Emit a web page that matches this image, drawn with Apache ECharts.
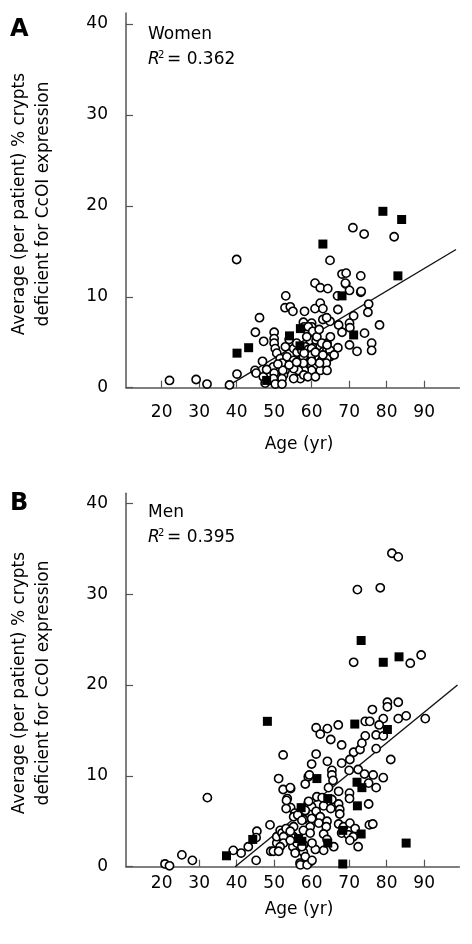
<!DOCTYPE html>
<html>
<head>
<meta charset="utf-8">
<script src="https://cdn.jsdelivr.net/npm/echarts@6/dist/echarts.min.js"></script>
<style>html,body{margin:0;padding:0;background:#fff}#c{width:472px;height:944px}</style>
</head>
<body>
<div id="c"></div>
<script>
// ---- Data ----
const ageTicks = [20, 30, 40, 50, 60, 70, 80, 90];
const pctTicks = [0, 10, 20, 30, 40];

// Panel A: Women (open circles = patients, filled squares = subgroup)
const womenCircAge = [40.0,71.0,74.0,82.0,64.9,68.1,69.2,73.1,60.9,62.3,64.3,69.1,70.1,66.9,73.1,53.1,52.9,54.3,55.0,58.1,60.9,62.3,63.0,67.0,63.0,64.9,64.0,75.2,75.0,71.2,70.1,70.2,67.2,68.1,78.1,74.1,70.1,72.1,76.0,76.0,67.0,46.1,45.0,47.2,50.0,50.0,50.0,50.3,57.8,60.0,60.0,58.0,61.4,60.0,59.6,61.2,55.2,56.1,57.4,58.3,59.1,60.5,62.3,63.2,64.1,64.9,64.9,50.7,51.6,53.4,52.1,52.9,52.5,52.1,55.2,57.0,57.9,59.2,60.5,61.8,62.7,64.1,63.6,62.3,60.0,58.0,56.5,57.0,55.2,57.9,44.9,45.2,47.1,46.9,49.8,50.0,49.8,52.3,40.1,38.1,32.1,29.2,22.1,47.6,50.3,52.1,64.1,69.0,73.2,59.1,60.3,58.7,61.4,62.7,64.1,63.9,64.1,62.1,60.0,60.0,60.0,57.8,57.8,55.2,54.0,56.0,58.0,61.0,63.0,59.0,61.0,56.0,53.0,51.0,48.0,54.0,62.0,65.0,66.0];
const womenCircPct = [14.1,17.6,16.9,16.6,14.0,12.5,12.6,12.3,11.5,11.0,10.9,11.4,10.7,10.1,10.5,10.1,8.8,8.9,8.4,8.4,8.7,9.3,8.7,8.6,7.5,7.3,7.7,9.2,8.3,7.9,7.1,6.6,6.9,6.1,6.9,6.0,4.7,4.0,4.9,4.1,4.4,7.7,6.1,5.1,6.1,5.4,4.9,4.3,7.2,7.1,6.7,6.7,6.2,5.8,5.2,5.2,4.3,3.9,4.1,4.5,4.2,4.4,4.6,4.0,4.2,4.1,3.4,3.8,3.2,3.4,2.7,1.9,1.4,1.0,3.0,3.0,2.4,3.2,3.2,3.4,3.0,3.2,2.4,1.9,1.9,1.9,1.9,1.0,1.0,1.4,1.9,1.6,1.2,2.9,2.3,1.6,1.0,1.9,1.5,0.3,0.4,0.9,0.8,0.5,0.4,0.4,4.9,11.5,10.6,6.7,6.2,5.6,5.6,4.9,4.7,2.7,1.9,2.7,4.3,3.6,2.9,3.4,2.7,2.1,2.5,2.8,3.8,3.9,3.6,1.2,1.2,4.9,4.5,2.6,2.0,5.3,6.4,5.6,3.6];
const womenSqAge = [79.0,84.0,63.0,83.0,68.1,71.2,57.0,54.1,56.9,43.2,40.1,48.0];
const womenSqPct = [19.4,18.5,15.8,12.3,10.1,5.8,6.5,5.7,4.6,4.4,3.8,0.8];
const womenFitAge = [36.9, 98.5];
const womenFitPct = [0, 15.2];

// Panel B: Men
const menCircAge = [81.4,83.1,72.2,78.3,71.2,86.3,89.2,80.2,80.2,83.1,76.2,90.3,83.1,85.2,79.1,78.0,74.3,75.5,67.1,64.2,61.2,62.3,74.3,77.2,79.1,65.1,68.0,71.2,72.9,73.4,77.2,61.2,60.0,64.2,68.0,70.2,70.0,72.4,81.1,65.4,65.4,65.7,74.1,76.4,75.2,77.2,79.1,59.1,58.3,64.5,67.2,70.1,70.1,75.2,61.4,62.8,63.2,65.4,65.1,67.2,67.5,67.5,54.4,54.4,55.5,59.1,60.0,58.2,57.8,60.0,61.2,62.3,61.9,64.1,63.9,67.2,68.5,70.2,71.6,75.4,76.3,68.0,69.8,71.1,70.2,72.4,59.6,57.8,59.6,63.2,64.1,65.9,63.2,61.0,60.1,57.8,57.8,59.8,58.3,55.0,55.6,56.9,55.2,32.2,25.4,28.2,20.9,22.1,39.1,41.2,43.1,45.4,45.2,45.2,48.9,49.1,49.8,50.7,50.7,51.6,52.1,52.5,52.5,53.2,51.2,52.4,53.5,54.3,53.2,52.4,55.2,56.3,57.4,58.3,59.2,55.2,54.3,56.1,57.4,54.3,51.6,51.2,57.0,58.8,58.3,60.1,59.4,53.3];
const menCircPct = [34.5,34.1,30.5,30.7,22.5,22.4,23.3,18.1,17.6,18.1,17.3,16.3,16.3,16.6,16.3,15.6,16.0,16.0,15.6,15.2,15.3,14.6,14.4,14.5,14.4,14.0,13.4,12.6,12.9,13.6,13.0,12.4,11.3,11.6,11.4,11.8,10.6,10.7,11.8,10.6,10.1,9.5,10.2,10.1,9.2,8.7,9.8,9.9,9.1,8.7,8.3,8.1,7.5,6.9,7.7,7.6,6.7,7.4,6.4,6.9,6.3,5.8,8.6,6.5,5.9,7.0,6.6,6.1,5.2,5.3,6.1,5.5,4.8,5.0,4.4,4.7,4.4,4.8,4.2,4.6,4.7,3.7,3.5,3.3,2.9,2.2,4.4,4.0,3.7,3.6,3.0,2.2,1.8,1.9,2.6,2.4,1.6,0.6,0.7,2.2,1.5,0.4,3.3,7.6,1.3,0.7,0.3,0.1,1.8,1.5,2.2,3.9,3.2,0.7,4.6,1.7,1.7,2.6,3.3,4.0,3.7,3.3,2.6,4.2,9.7,8.5,7.5,8.7,6.4,12.3,5.5,5.7,5.1,6.2,7.2,4.4,3.9,2.6,2.2,2.9,2.2,1.7,0.2,0.2,1.1,0.7,10.1,7.3];
const menSqAge = [73.2,79.1,83.3,48.2,71.5,80.2,61.4,72.1,73.4,64.3,57.2,72.2,44.3,37.3,56.5,57.4,64.3,68.3,73.2,85.2,68.3];
const menSqPct = [24.9,22.5,23.1,16.0,15.7,15.1,9.7,9.3,8.7,7.5,6.5,6.7,3.0,1.2,3.1,2.8,2.6,4.0,3.6,2.6,0.3];
const menFitAge = [39.6, 98.9];
const menFitPct = [0, 20.0];

// ---- Chart ----
const FONT = 'DejaVu Sans';
const zip = (a, b) => a.map((v, i) => [v, b[i]]);
const axisCol = '#555';

function xAx(gi, margin) {
  return {
    gridIndex: gi, type: 'value', min: 10.5, max: 99.4,
    axisLine: {show: true, lineStyle: {color: axisCol, width: 1.5}},
    axisTick: {show: true, inside: true, length: 7, customValues: ageTicks, lineStyle: {color: axisCol, width: 1.2}},
    axisLabel: {customValues: ageTicks, color: '#000', fontSize: 17, fontFamily: FONT, margin: margin},
    splitLine: {show: false}
  };
}
function yAx(gi, max) {
  return {
    gridIndex: gi, type: 'value', min: 0, max: max,
    axisLine: {show: true, lineStyle: {color: axisCol, width: 1.5}},
    axisTick: {show: true, inside: true, length: 7, customValues: pctTicks, lineStyle: {color: axisCol, width: 1.2}},
    axisLabel: {customValues: pctTicks, color: '#000', fontSize: 17, fontFamily: FONT, margin: 18},
    splitLine: {show: false}
  };
}
const circStyle = {color: '#fff', borderColor: '#000', borderWidth: 1.6, opacity: 1};
const sqStyle = {color: '#000', opacity: 1};

function txt(x, y, text, opts) {
  return Object.assign({type: 'text', x: x, y: y, silent: true,
    style: Object.assign({text: text, fill: '#000', font: '17px "DejaVu Sans"', textAlign: 'left', textVerticalAlign: 'middle'}, opts || {})});
}

const chart = echarts.init(document.getElementById('c'), null, {renderer: 'canvas'});
chart.setOption({
  animation: false,
  backgroundColor: '#fff',
  grid: [
    {left: 126, right: 12.6, top: 13.1, bottom: 556.3},
    {left: 126, right: 12.6, top: 493.3, bottom: 77.3}
  ],
  xAxis: [xAx(0, 16), xAx(1, 8)],
  yAxis: [yAx(0, 41.2), yAx(1, 41.1)],
  series: [
    {type: 'line', xAxisIndex: 0, yAxisIndex: 0, data: zip(womenFitAge, womenFitPct), symbol: 'none', lineStyle: {color: '#111', width: 1.4}, z: 1},
    {type: 'scatter', xAxisIndex: 0, yAxisIndex: 0, data: zip(womenCircAge, womenCircPct), symbol: 'circle', symbolSize: 8.2, itemStyle: circStyle, z: 2},
    {type: 'scatter', xAxisIndex: 0, yAxisIndex: 0, data: zip(womenSqAge, womenSqPct), symbol: 'rect', symbolSize: 9, itemStyle: sqStyle, z: 3},
    {type: 'line', xAxisIndex: 1, yAxisIndex: 1, data: zip(menFitAge, menFitPct), symbol: 'none', lineStyle: {color: '#111', width: 1.4}, z: 1},
    {type: 'scatter', xAxisIndex: 1, yAxisIndex: 1, data: zip(menCircAge, menCircPct), symbol: 'circle', symbolSize: 8.2, itemStyle: circStyle, z: 2},
    {type: 'scatter', xAxisIndex: 1, yAxisIndex: 1, data: zip(menSqAge, menSqPct), symbol: 'rect', symbolSize: 9, itemStyle: sqStyle, z: 3}
  ],
  graphic: [
    txt(10, 30, 'A', {font: 'bold 24px "DejaVu Sans"'}),
    txt(10, 504, 'B', {font: 'bold 24px "DejaVu Sans"'}),
    txt(148, 35, 'Women'),
    txt(148, 60, 'R', {font: 'italic 17px "DejaVu Sans"'}),
    txt(158, 55, '2', {font: '10px "DejaVu Sans"'}),
    txt(167, 60, '= 0.362'),
    txt(148, 513, 'Men'),
    txt(148, 538, 'R', {font: 'italic 17px "DejaVu Sans"'}),
    txt(158, 533, '2', {font: '10px "DejaVu Sans"'}),
    txt(167, 538, '= 0.395'),
    txt(299, 445, 'Age (yr)', {textAlign: 'center'}),
    txt(299, 910, 'Age (yr)', {textAlign: 'center'}),
    Object.assign(txt(20, 204, 'Average (per patient) % crypts', {textAlign: 'center'}), {rotation: Math.PI / 2}),
    Object.assign(txt(44, 204, 'deficient for CcOI expression', {textAlign: 'center'}), {rotation: Math.PI / 2}),
    Object.assign(txt(20, 683, 'Average (per patient) % crypts', {textAlign: 'center'}), {rotation: Math.PI / 2}),
    Object.assign(txt(44, 683, 'deficient for CcOI expression', {textAlign: 'center'}), {rotation: Math.PI / 2})
  ]
});
</script>
</body>
</html>
